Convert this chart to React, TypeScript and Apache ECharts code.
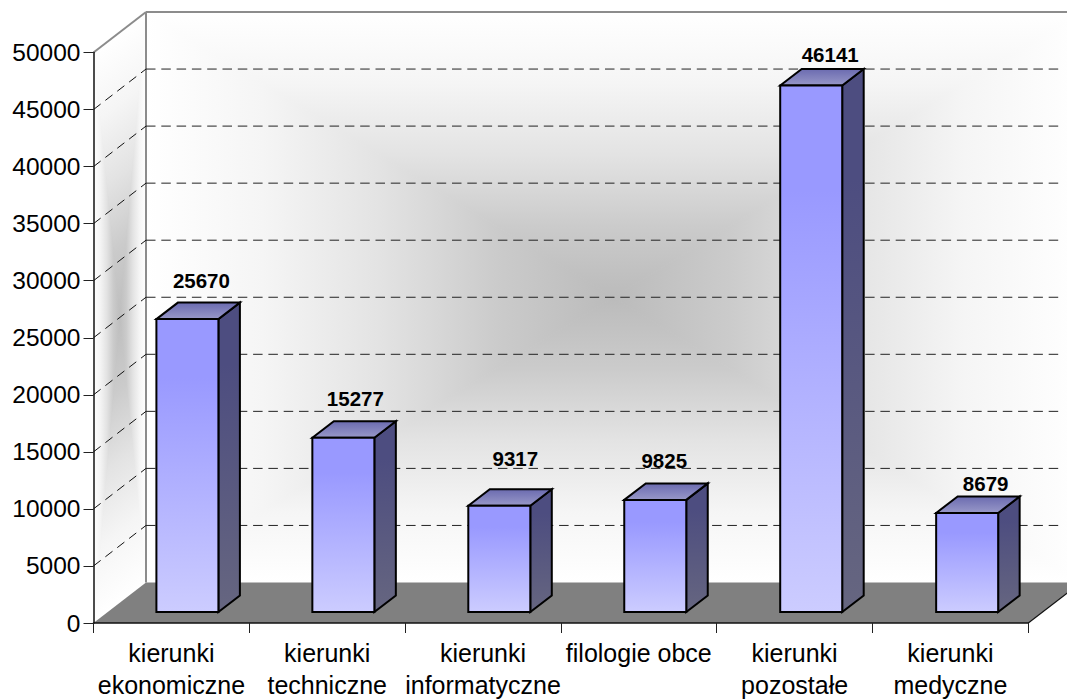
import React, { useEffect, useRef } from "react";
import * as echarts from "echarts";

const categories = [
  "kierunki\nekonomiczne",
  "kierunki\ntechniczne",
  "kierunki\ninformatyczne",
  "filologie obce",
  "kierunki\npozostałe",
  "kierunki\nmedyczne",
];
const values = [25670, 15277, 9317, 9825, 46141, 8679];
const gridValues = [5000, 10000, 15000, 20000, 25000, 30000, 35000, 40000, 45000];

// styling only: label offset from each bar's front-top-left corner
const labelDx = [45, 43, 47, 40, 50, 49.5];
const labelDy = [39, 39, 47, 39, 31, 29];

const DEPTH_X = 52.5;
const DEPTH_Y = 40.5;
const BAR_W = 62;
const BAR_DX = 21.5;
const BAR_DY = 16.5;
const FONT = "Liberation Sans, Arial, sans-serif";

const shadeStops = (center: string) => [
  { offset: 0, color: "#ffffff" },
  { offset: 0.25, color: "#f5f5f5" },
  { offset: 0.5, color: "#e3e3e3" },
  { offset: 0.75, color: "#cbcbcb" },
  { offset: 1, color: center },
];

// one quad shaded as a rectangular "path" gradient: four triangles to its centre
function pathShade(pts: number[][], center: string) {
  const cx = pts.reduce((s, p) => s + p[0], 0) / 4;
  const cy = pts.reduce((s, p) => s + p[1], 0) / 4;
  return pts.map((a, i) => {
    const b = pts[(i + 1) % 4];
    const ex = b[0] - a[0];
    const ey = b[1] - a[1];
    const len = Math.hypot(ex, ey);
    const nx = -ey / len;
    const ny = ex / len;
    const d = (cx - a[0]) * nx + (cy - a[1]) * ny;
    const g = new echarts.graphic.LinearGradient(
      cx - d * nx,
      cy - d * ny,
      cx,
      cy,
      shadeStops(center),
      true
    );
    return {
      type: "polygon",
      shape: { points: [a, b, [cx, cy]] },
      style: { fill: g, stroke: g, lineWidth: 1 },
      silent: true,
    };
  });
}

const renderWalls = (params: any, api: any) => {
  const cs = params.coordSys;
  const L = cs.x;
  const R = cs.x + cs.width;
  const T = cs.y;
  const B = cs.y + cs.height;
  const bl = L + DEPTH_X;
  const br = R + DEPTH_X;
  const bt = T - DEPTH_Y;
  const bb = B - DEPTH_Y;
  const children: any[] = [
    ...pathShade([[bl, bt], [br, bt], [br, bb], [bl, bb]], "#bbbbbb"),
    ...pathShade([[L, T], [bl, bt], [bl, bb], [L, B]], "#bebebe"),
    {
      type: "polygon",
      shape: { points: [[L, B], [bl, bb], [br, bb], [R, B]] },
      style: { fill: "#808080" },
    },
    { type: "line", shape: { x1: R, y1: B, x2: br, y2: bb }, style: { stroke: "#111", lineWidth: 1.2 } },
    { type: "line", shape: { x1: bl, y1: bt, x2: bl, y2: bb }, style: { stroke: "#8c8c8c", lineWidth: 2 } },
    { type: "line", shape: { x1: bl, y1: bt, x2: 1067, y2: bt }, style: { stroke: "#8c8c8c", lineWidth: 2 } },
    { type: "line", shape: { x1: L, y1: T, x2: bl, y2: bt }, style: { stroke: "#8c8c8c", lineWidth: 2 } },
  ];
  gridValues.forEach((v) => {
    const y = api.coord([0, v])[1];
    children.push({
      type: "polyline",
      shape: { points: [[L, y], [bl, y - DEPTH_Y]] },
      style: { stroke: "#111", lineWidth: 1, lineDash: [9, 6], fill: "none" },
    });
    children.push({
      type: "line",
      shape: { x1: bl, y1: y - DEPTH_Y, x2: 1062, y2: y - DEPTH_Y },
      style: { stroke: "#222", lineWidth: 1, lineDash: [9.5, 5.8] },
    });
  });
  return { type: "group", children };
};

const renderBar = (params: any, api: any) => {
  const i = api.value(0);
  const v = api.value(1);
  const base = api.coord([i, 0]);
  const top = api.coord([i, v]);
  const x0 = base[0] - 15 + i * 0.15;
  const x1 = x0 + BAR_W;
  const y0 = top[1] - 11;
  const y1 = base[1] - 11;
  const stroke = { stroke: "#000", lineWidth: 2, lineJoin: "miter" };
  const V = (stops: [number, string][]) =>
    new echarts.graphic.LinearGradient(0, 0, 0, 1, stops.map(([offset, color]) => ({ offset, color })));
  return {
    type: "group",
    children: [
      {
        type: "polygon",
        shape: { points: [[x1, y0], [x1 + BAR_DX, y0 - BAR_DY], [x1 + BAR_DX, y1 - BAR_DY], [x1, y1]] },
        style: { fill: V([[0, "#4d4d80"], [0.2, "#4d4d80"], [1, "#666680"]]), ...stroke },
      },
      {
        type: "polygon",
        shape: { points: [[x0, y0], [x0 + BAR_DX, y0 - BAR_DY], [x1 + BAR_DX, y0 - BAR_DY], [x1, y0]] },
        style: { fill: V([[0, "#6b6bb0"], [1, "#9898c8"]]), ...stroke },
      },
      {
        type: "rect",
        shape: { x: x0, y: y0, width: BAR_W, height: y1 - y0 },
        style: { fill: V([[0, "#9999ff"], [0.2, "#9999ff"], [1, "#ccccff"]]), ...stroke },
      },
      {
        type: "text",
        style: {
          text: String(v),
          x: x0 + labelDx[i],
          y: y0 - labelDy[i],
          align: "center",
          verticalAlign: "middle",
          font: `bold 20.5px ${FONT}`,
          fill: "#000",
        },
      },
    ],
  };
};

export default function App() {
  const ref = useRef<HTMLDivElement>(null);
  useEffect(() => {
    const chart = echarts.init(ref.current!, undefined, { renderer: "svg" });
    chart.setOption({
      animation: false,
      backgroundColor: "#ffffff",
      grid: { left: 93.5, top: 52.5, width: 934.8, height: 570.5, containLabel: false, outerBoundsMode: "none" },
      xAxis: {
        type: "category",
        data: categories,
        z: 5,
        axisLine: { show: true, onZero: false, lineStyle: { color: "#111", width: 1.5 } },
        axisTick: { show: true, length: 10, alignWithLabel: false, lineStyle: { color: "#222", width: 1 } },
        axisLabel: {
          interval: 0,
          hideOverlap: false,
          margin: 13.5,
          color: "#000",
          fontFamily: FONT,
          fontSize: 25,
          lineHeight: 32.5,
          verticalAlign: "top",
        },
      },
      yAxis: {
        type: "value",
        min: 0,
        max: 50000,
        interval: 5000,
        z: 5,
        splitLine: { show: false },
        axisLine: { show: true, lineStyle: { color: "#111", width: 1.5 } },
        axisTick: { show: true, length: 10, lineStyle: { color: "#222", width: 1 } },
        axisLabel: { margin: 13, color: "#000", fontFamily: FONT, fontSize: 24.5, formatter: (v: number) => String(v) },
      },
      series: [
        {
          type: "custom",
          renderItem: renderWalls,
          data: [[0, 0]],
          encode: { x: 0, y: 1 },
          silent: true,
          clip: false,
          z: 1,
        },
        {
          type: "custom",
          renderItem: renderBar,
          data: values.map((v, i) => [i, v]),
          encode: { x: 0, y: 1 },
          clip: false,
          z: 2,
        },
      ],
    });
    return () => chart.dispose();
  }, []);
  return <div ref={ref} style={{ position: "fixed", left: 0, top: 0, width: 1067, height: 699 }} />;
}
